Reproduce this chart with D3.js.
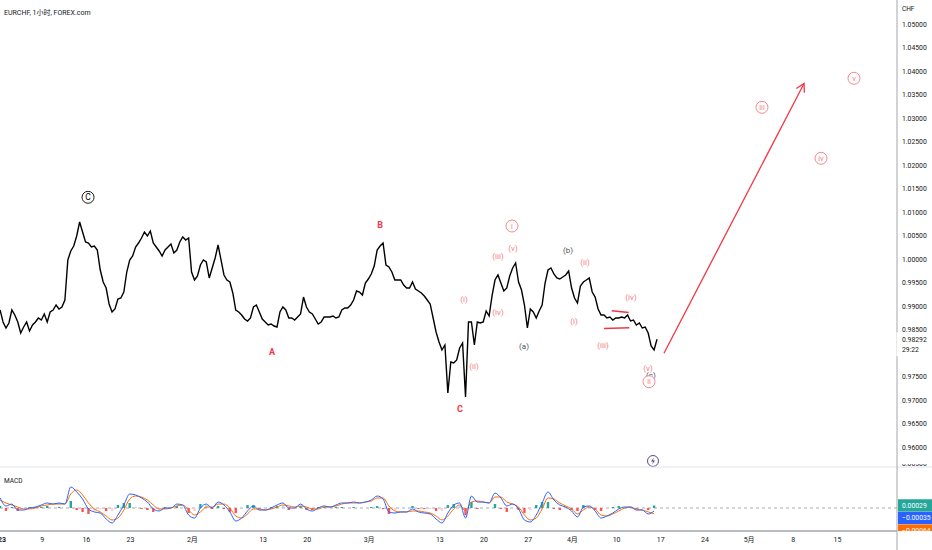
<!DOCTYPE html>
<html lang="zh">
<head>
<meta charset="utf-8">
<script src="https://cdn.jsdelivr.net/npm/d3@7"></script>
<style>
  body { margin: 0; background: #fff; }
  svg text { font-family: Roboto, "Noto Sans CJK SC", sans-serif; }
</style>
</head>
<body>
<script>

// time is counted in trading days from Mon 2 Jan 2023 (weekends removed)
var width = 932,
    height = 550;

// close prices every 8 hours, starting at day 0.3
var priceStart = 0.3, priceStep = 1 / 3;
var closes = [
  0.98915,0.98660,0.98532,0.98638,0.98915,0.98809,0.98660,0.98426,0.98553,0.98660,
  0.98468,0.98596,0.98660,0.98745,0.98702,0.98830,0.98660,0.98872,0.98915,0.99021,
  0.98936,0.98979,0.99128,0.99979,1.00170,1.00277,1.00489,1.00787,1.00574,1.00362,
  1.00340,1.00255,1.00277,1.00191,0.99766,0.99511,0.99383,0.99043,0.98872,0.98936,
  0.99149,0.99170,0.99298,0.99723,0.99979,1.00064,1.00255,1.00340,1.00447,1.00574,
  1.00489,1.00596,1.00340,1.00255,1.00170,1.00064,1.00191,1.00255,1.00319,1.00128,
  1.00191,1.00362,1.00468,1.00404,1.00447,0.99723,0.99553,0.99638,0.99872,0.99979,
  0.99936,0.99596,0.99809,1.00021,1.00298,0.99979,0.99660,0.99553,0.99511,0.99277,
  0.98915,0.98872,0.98809,0.98723,0.98681,0.98745,0.98979,0.99021,0.98872,0.98723,
  0.98660,0.98596,0.98617,0.98574,0.98553,0.98872,0.98979,0.98915,0.98745,0.98745,
  0.98702,0.98766,0.98830,0.99191,0.98979,0.98872,0.98830,0.98723,0.98617,0.98660,
  0.98766,0.98766,0.98766,0.98787,0.98745,0.98766,0.98915,0.98957,0.98957,0.99021,
  0.99128,0.99319,0.99298,0.99234,0.99489,0.99574,0.99681,0.99851,1.00191,1.00277,
  1.00340,0.99872,0.99830,0.99723,0.99553,0.99553,0.99553,0.99447,0.99383,0.99383,
  0.99511,0.99362,0.99319,0.99277,0.99213,0.99128,0.99043,0.98745,0.98447,0.98234,
  0.98064,0.98170,0.97149,0.97809,0.97787,0.97851,0.98106,0.98213,0.97064,0.98660,
  0.98660,0.98170,0.98660,0.98638,0.98660,0.98894,0.98787,0.99213,0.99553,0.99660,
  0.99489,0.99319,0.99383,0.99638,0.99809,0.99915,0.99511,0.99340,0.99021,0.98532,
  0.98936,0.98872,0.98745,0.98894,0.99021,0.99489,0.99766,0.99809,0.99681,0.99596,
  0.99574,0.99617,0.99660,0.99745,0.99383,0.99170,0.99064,0.99426,0.99511,0.99553,
  0.99596,0.99298,0.99191,0.98936,0.98809,0.98809,0.98745,0.98766,0.98702,0.98745,
  0.98745,0.98766,0.98745,0.98809,0.98681,0.98702,0.98596,0.98638,0.98532,0.98553,
  0.98426,0.98149,0.98064,0.98292
];
var lastPrice = 0.98292, countdown = "29:22";

// MACD(12,26,9) samples every 16 hours
var macdStart = 0.3, macdStep = 2 / 3;
var macd = [
  0.00114,0.00023,0.00045,-0.00023,-0.00023,0,0.00011,0.00034,0.00057,0.00045,
  0.00057,0.00045,0.00239,0.00182,0.00102,-0.00011,-0.00045,-0.00057,-0.00125,-0.00170,
  -0.00080,0.00034,0.00159,0.00148,0.00114,0.00068,-0.00011,-0.00034,0,0,
  0.00045,0.00034,-0.00080,-0.00114,0,0.00045,0,0.00068,0.00034,-0.00045,
  -0.00148,-0.00114,-0.00034,0.00023,-0.00023,-0.00023,0,0.00034,0.00057,0,
  0,0.00045,-0.00011,-0.00034,0,0.00023,0.00011,0.00034,0.00057,0.00057,
  0.00068,0.00057,0.00068,0.00091,0.00136,0.00102,-0.00045,-0.00057,-0.00045,-0.00045,
  -0.00011,-0.00045,-0.00057,-0.00068,-0.00125,-0.00170,-0.00057,0.00034,0.00057,-0.00114,
  0.00136,0.00068,0.00068,0.00057,0.00170,0.00114,0.00023,0.00045,-0.00011,-0.00136,
  -0.00159,-0.00080,0.00057,0.00182,0.00091,0.00034,0.00011,-0.00034,-0.00102,0.00011,
  0.00023,-0.00034,-0.00114,-0.00091,-0.00057,-0.00011,0.00011,0.00011,-0.00023,-0.00023,
  -0.00068,-0.00035
];
var signal = [
  0.00091,0.00057,0.00034,0.00011,-0.00011,-0.00011,0,0.00023,0.00034,0.00045,
  0.00045,0.00045,0.00159,0.00205,0.00148,0.00057,-0.00011,-0.00045,-0.00091,-0.00136,
  -0.00114,-0.00023,0.00102,0.00136,0.00125,0.00091,0.00034,-0.00011,-0.00011,0,
  0.00023,0.00034,-0.00023,-0.00080,-0.00045,0.00011,0.00011,0.00045,0.00045,0,
  -0.00091,-0.00114,-0.00068,-0.00011,-0.00011,-0.00023,-0.00011,0.00011,0.00034,0.00023,
  0.00011,0.00023,0.00011,-0.00011,-0.00011,0.00011,0.00011,0.00023,0.00045,0.00057,
  0.00057,0.00057,0.00068,0.00080,0.00114,0.00114,0.00023,-0.00034,-0.00045,-0.00045,
  -0.00034,-0.00034,-0.00045,-0.00057,-0.00091,-0.00136,-0.00091,-0.00011,0.00034,-0.00034,
  0.00068,0.00080,0.00068,0.00057,0.00125,0.00125,0.00068,0.00045,0.00011,-0.00080,
  -0.00136,-0.00114,-0.00011,0.00114,0.00102,0.00057,0.00023,-0.00011,-0.00068,-0.00023,
  0.00011,-0.00011,-0.00080,-0.00091,-0.00068,-0.00034,0,0.00011,-0.00011,-0.00023,
  -0.00045,-0.00064
];

var priceTicks = [1.05,1.045,1.04,1.035,1.03,1.025,1.02,1.015,1.01,1.005,1.0,
                  0.995,0.99,0.985,0.975,0.97,0.965,0.96];
var timeTicks  = [0,5,10,15,22,30,35,42,50,55,60,65,70,75,80,85,90,95];
var timeLabels = ["2023","9","16","23","2月","13","20","3月","13","20","27","4月","10","17","24","5月","8","15"];

// Elliott wave labels: [day, price, text, kind]
var waves = [
  [10.25, 1.01313, "C", "circleBlack"],
  [31.07, 0.98028, "A", "red"],
  [43.29, 1.00723, "B", "red"],
  [52.34, 0.96809, "C", "red"],
  [52.79, 0.99143, "(i)", "pink"],
  [53.92, 0.97709, "(ii)", "pink"],
  [56.64, 1.00064, "(iii)", "pink"],
  [56.64, 0.98872, "(iv)", "pink"],
  [58.34, 1.00228, "(v)", "pink"],
  [58.22, 1.00702, "i", "circlePink"],
  [59.58, 0.98155, "(a)", "gray"],
  [64.56, 1.00191, "(b)", "gray"],
  [66.48, 0.99930, "(ii)", "pink"],
  [65.24, 0.98681, "(i)", "pink"],
  [68.52, 0.98170, "(iii)", "pink"],
  [71.69, 0.99185, "(iv)", "pink"],
  [73.62, 0.97675, "(v)", "pink"],
  [73.95, 0.97532, "(c)", "gray"],
  [73.73, 0.97389, "ii", "circlePink"],
  [86.51, 1.03228, "iii", "circlePink"],
  [93.19, 1.02143, "iv", "circlePink"],
  [96.92, 1.03845, "v", "circlePink"]
];
// triangle of wave (iv): [day, price] pairs
var triUpper = [[69.51, 0.98898], [71.44, 0.98862]];
var triLower = [[68.63, 0.98521], [71.50, 0.98538]];
// projected path
var arrow = [[75.42, 0.97994], [91.27, 1.03734]];
var eventIcon = [74.18, 0.95702];

var red = "#f23645", pink = "#f57a82", gray = "#50535e", ink = "#131722";

var x = d3.scaleLinear()
    .domain([0, 100])
    .range([-2.56, -2.56 + 883.75]);

var y = d3.scaleLinear()
    .domain([0.96, 1.05])
    .range([447, 24]);

var ym = d3.scaleLinear()
    .domain([-0.001, 0.001])
    .range([516.8, 499.2]);

var axisX = 897, paneBottom = 467, timeY = 531;

var svg = d3.select("body").append("svg")
    .attr("width", width)
    .attr("height", height);

var defs = svg.append("defs");
defs.append("clipPath").attr("id", "clipPrice")
  .append("rect").attr("x", 0).attr("y", 0).attr("width", axisX).attr("height", paneBottom);
defs.append("clipPath").attr("id", "clipMacd")
  .append("rect").attr("x", 0).attr("y", paneBottom).attr("width", axisX).attr("height", timeY - paneBottom);
defs.append("clipPath").attr("id", "clipTime")
  .append("rect").attr("x", 0).attr("y", timeY).attr("width", axisX).attr("height", height - timeY);
defs.append("clipPath").attr("id", "clipMacdAxis")
  .append("rect").attr("x", axisX).attr("y", 464).attr("width", width - axisX).attr("height", timeY - 464);
defs.append("marker")
    .attr("id", "head")
    .attr("viewBox", "-10 -6 12 12")
    .attr("refX", 0).attr("refY", 0)
    .attr("markerWidth", 12).attr("markerHeight", 12)
    .attr("markerUnits", "userSpaceOnUse")
    .attr("orient", "auto")
  .append("path")
    .attr("d", "M-8,-4.5L0,0L-8,4.5")
    .attr("fill", "none")
    .attr("stroke", red)
    .attr("stroke-width", 1.3);

// ---- price pane ----
var price = svg.append("g").attr("clip-path", "url(#clipPrice)");

var line = d3.line()
    .x(function(d, i) { return x(priceStart + i * priceStep); })
    .y(function(d) { return y(d); });

price.append("path")
    .datum(closes)
    .attr("d", line)
    .attr("fill", "none")
    .attr("stroke", "#000")
    .attr("stroke-width", 1.4)
    .attr("stroke-linejoin", "miter");

var seg = d3.line()
    .x(function(d) { return x(d[0]); })
    .y(function(d) { return y(d[1]); });

[triUpper, triLower].forEach(function(t) {
  price.append("path")
      .attr("d", seg(t))
      .attr("stroke", red)
      .attr("stroke-width", 1.4)
      .attr("fill", "none");
});

price.append("path")
    .attr("d", seg(arrow))
    .attr("stroke", red)
    .attr("stroke-width", 1.3)
    .attr("fill", "none")
    .attr("marker-end", "url(#head)");

var labels = price.selectAll("g.wave")
    .data(waves)
  .enter().append("g")
    .attr("class", "wave")
    .attr("transform", function(d) { return "translate(" + x(d[0]) + "," + y(d[1]) + ")"; });

labels.filter(function(d) { return d[3].indexOf("circle") === 0; })
  .append("circle")
    .attr("r", 6)
    .attr("fill", "#fff")
    .attr("stroke", function(d) { return d[3] === "circleBlack" ? "#000" : pink; })
    .attr("stroke-width", 0.9);

labels.append("text")
    .attr("text-anchor", "middle")
    .attr("dy", "0.35em")
    .attr("font-size", function(d) {
      if (d[3] === "red") return 9;
      if (d[3] === "circleBlack") return 8.5;
      return d[3] === "circlePink" ? 7.5 : 8;
    })
    .attr("font-weight", function(d) { return d[3] === "red" ? "bold" : "normal"; })
    .attr("fill", function(d) {
      return { red: red, pink: pink, gray: gray, circleBlack: "#000", circlePink: pink }[d[3]];
    })
    .text(function(d) { return d[2]; });

// event marker
var ev = price.append("g")
    .attr("transform", "translate(" + x(eventIcon[0]) + "," + y(eventIcon[1]) + ")");
ev.append("circle").attr("r", 5.5).attr("fill", "#fff").attr("stroke", "#5d4a8a").attr("stroke-width", 1);
ev.append("path")
    .attr("d", "M0.8,-3.6L-2,0.6L0,0.6L-0.8,3.6L2,-0.6L0,-0.6Z")
    .attr("fill", "#5d4a8a");

svg.append("text")
    .attr("x", 4).attr("y", 13)
    .attr("dy", "0.35em")
    .attr("font-size", 7)
    .attr("fill", ink)
    .text("EURCHF, 1小时, FOREX.com");

// ---- MACD pane ----
svg.append("line")
    .attr("x1", 0).attr("x2", width)
    .attr("y1", paneBottom).attr("y2", paneBottom)
    .attr("stroke", "#e0e3eb");

var mp = svg.append("g").attr("clip-path", "url(#clipMacd)");

mp.append("line")
    .attr("x1", 0).attr("x2", axisX)
    .attr("y1", ym(0)).attr("y2", ym(0))
    .attr("stroke", "#9598a1")
    .attr("stroke-width", 0.8)
    .attr("stroke-dasharray", "3,3");

var hist = macd.map(function(m, i) { return m - signal[i]; });

mp.selectAll("rect.hist")
    .data(hist)
  .enter().append("rect")
    .attr("class", "hist")
    .attr("x", function(d, i) { return x(macdStart + i * macdStep) - 1.2; })
    .attr("width", 2.4)
    .attr("y", function(d) { return Math.min(ym(d), ym(0)); })
    .attr("height", function(d) { return Math.abs(ym(d) - ym(0)); })
    .attr("fill", function(d, i) {
      var prev = i > 0 ? hist[i - 1] : d;
      if (d >= 0) return d >= prev ? "#26a69a" : "#b2dfdb";
      return d < prev ? "#ff5252" : "#ffcdd2";
    });

var mline = d3.line()
    .x(function(d, i) { return x(macdStart + i * macdStep); })
    .y(function(d) { return ym(d); })
    .curve(d3.curveMonotoneX);

mp.append("path").datum(signal).attr("d", mline)
    .attr("fill", "none").attr("stroke", "#ff6d00").attr("stroke-width", 1);
mp.append("path").datum(macd).attr("d", mline)
    .attr("fill", "none").attr("stroke", "#2962ff").attr("stroke-width", 1);

svg.append("text")
    .attr("x", 4).attr("y", 481)
    .attr("dy", "0.35em")
    .attr("font-size", 6.5)
    .attr("fill", ink)
    .text("MACD");

// ---- right price scale ----
var yAxis = d3.axisRight(y)
    .tickValues(priceTicks)
    .tickFormat(d3.format(".5f"))
    .tickSize(0)
    .tickPadding(5);

var ya = svg.append("g")
    .attr("transform", "translate(" + axisX + ",0)")
    .call(yAxis);
ya.select(".domain").remove();
ya.selectAll("text").attr("font-size", 6.8).attr("fill", ink).style("font-family", "Roboto");

svg.append("text")
    .attr("x", 902).attr("y", 9)
    .attr("dy", "0.35em")
    .attr("font-size", 6.5)
    .attr("fill", ink)
    .text("CHF");

var macdAxis = svg.append("g").attr("clip-path", "url(#clipMacdAxis)");
macdAxis.append("text")
    .attr("x", 902).attr("y", ym(0.005))
    .attr("dy", "0.35em")
    .attr("font-size", 6.8)
    .attr("fill", ink)
    .text(d3.format(".5f")(0.005));

svg.append("line")
    .attr("x1", axisX).attr("x2", axisX)
    .attr("y1", 0).attr("y2", height)
    .attr("stroke", "#a3a6af")
    .attr("stroke-width", 1);

// last price label
svg.append("rect")
    .attr("x", axisX - 0.5).attr("y", y(lastPrice) - 7)
    .attr("width", width - axisX).attr("height", 24)
    .attr("fill", "#fff");
svg.append("text")
    .attr("x", 902).attr("y", y(lastPrice))
    .attr("dy", "0.35em")
    .attr("font-size", 6.8)
    .attr("fill", ink)
    .text(d3.format(".5f")(lastPrice));
svg.append("text")
    .attr("x", 902).attr("y", y(lastPrice) + 10.5)
    .attr("dy", "0.35em")
    .attr("font-size", 6.8)
    .attr("fill", ink)
    .text(countdown);

// MACD value badges
var last = macd.length - 1;
var badges = [
  { v: hist[last], c: "#26a69a" },
  { v: macd[last], c: "#2962ff" },
  { v: signal[last], c: "#ff6d00" }
];
var fmt = d3.format(".5f");
var by = ym(badges[0].v);
badges.forEach(function(b, i) {
  var cy = by + i * 12.6;
  macdAxis.append("rect")
      .attr("x", axisX + 1).attr("y", cy - 6.2)
      .attr("width", width - axisX - 1).attr("height", 12.4)
      .attr("fill", b.c);
  macdAxis.append("text")
      .attr("x", 902).attr("y", cy)
      .attr("dy", "0.35em")
      .attr("font-size", 6.8)
      .attr("fill", "#fff")
      .text(fmt(b.v).replace("-", "\u2212"));
});

// ---- time scale ----
svg.append("line")
    .attr("x1", 0).attr("x2", axisX)
    .attr("y1", timeY).attr("y2", timeY)
    .attr("stroke", "#a3a6af")
    .attr("stroke-width", 1.6);

var xAxis = d3.axisBottom(x)
    .tickValues(timeTicks)
    .tickFormat(function(d, i) { return timeLabels[i]; })
    .tickSize(0)
    .tickPadding(6);

var xa = svg.append("g")
    .attr("clip-path", "url(#clipTime)")
  .append("g")
    .attr("transform", "translate(0," + timeY + ")")
    .call(xAxis);
xa.select(".domain").remove();
xa.selectAll("text")
    .attr("font-size", 7)
    .attr("fill", ink)
    .style("font-family", "Roboto, 'Noto Sans CJK SC'")
    .attr("font-weight", function(d, i) { return i === 0 ? "bold" : "normal"; });

</script>
</body>
</html>
